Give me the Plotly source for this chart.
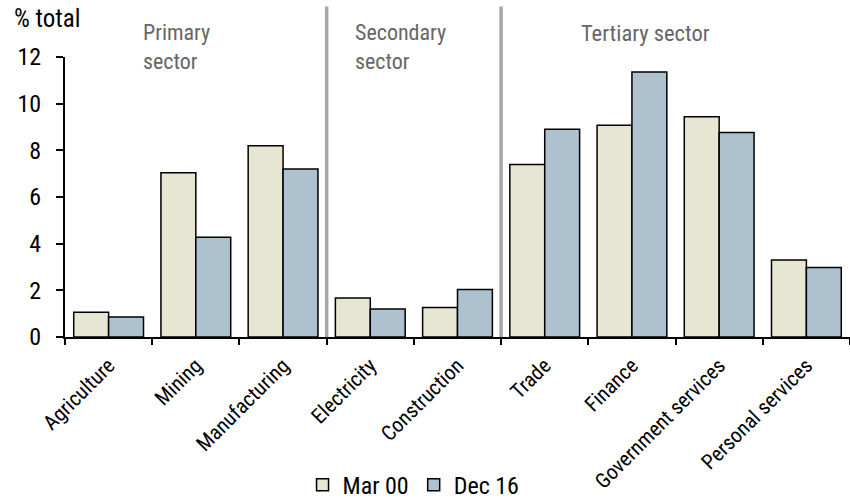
import plotly.graph_objects as go

categories = ["Agriculture", "Mining", "Manufacturing", "Electricity", "Construction",
              "Trade", "Finance", "Government services", "Personal services"]
mar00 = [1.06, 7.04, 8.2, 1.67, 1.26, 7.39, 9.08, 9.44, 3.3]
dec16 = [0.86, 4.27, 7.2, 1.2, 2.04, 8.9, 11.36, 8.76, 2.98]
yticks = [0, 2, 4, 6, 8, 10, 12]
sectors = ["Primary<br>sector", "Secondary<br>sector", "Tertiary sector"]

FONT = "Roboto Condensed, Roboto, sans-serif"

fig = go.Figure()
fig.add_trace(go.Bar(x=categories, y=mar00, name="Mar 00",
                     marker=dict(color="#E6E6D2", line=dict(color="black", width=1.5))))
fig.add_trace(go.Bar(x=categories, y=dec16, name="Dec 16",
                     marker=dict(color="#AEC1CF", line=dict(color="black", width=1.5))))

# sector separators
for xb in [2.5, 4.5]:
    fig.add_shape(type="line", xref="x", yref="paper", x0=xb, x1=xb, y0=0, y1=1.18,
                  line=dict(color="#A6A6A6", width=3.5), layer="below")

PW = 785.0
PH = 280.0
fig.add_annotation(text=sectors[0], xref="paper", yref="paper", x=(141-65)/PW, y=(337-18)/PH,
                   xanchor="left", yanchor="top", align="left", showarrow=False,
                   font=dict(size=22, color="#666666", family=FONT))
fig.add_annotation(text=sectors[1], xref="paper", yref="paper", x=(353-65)/PW, y=(337-18)/PH,
                   xanchor="left", yanchor="top", align="left", showarrow=False,
                   font=dict(size=22, color="#666666", family=FONT))
fig.add_annotation(text=sectors[2], xref="paper", yref="paper", x=(579-65)/PW, y=(337-18)/PH,
                   xanchor="left", yanchor="top", align="left", showarrow=False,
                   font=dict(size=22.5, color="#666666", family=FONT))
fig.add_annotation(text="% total", xref="paper", yref="paper", x=-53/PW, y=(337-2)/PH,
                   xanchor="left", yanchor="top", showarrow=False,
                   font=dict(size=25, color="black", family=FONT))

fig.update_layout(
    width=850, height=500,
    margin=dict(l=65, r=0, t=57, b=163, autoexpand=False),
    paper_bgcolor="white", plot_bgcolor="white",
    barmode="group", bargap=0.2, bargroupgap=0,
    font=dict(family=FONT, color="black"),
    showlegend=True,
    legend=dict(orientation="h", x=0.444, xanchor="center", y=-0.529, yanchor="middle",
                font=dict(size=24, family=FONT), itemwidth=30, traceorder="normal"),
)
fig.update_xaxes(showline=True, linecolor="black", linewidth=2, ticks="outside",
                 tickson="boundaries", ticklen=6, tickcolor="black", tickwidth=1.5,
                 tickangle=-45, tickfont=dict(size=21, family=FONT), showgrid=False,
                 ticklabelstandoff=6, range=[-0.5, 8.5], automargin=False)
fig.update_yaxes(range=[0, 12], tickvals=yticks, showline=True, linecolor="black", linewidth=2,
                 ticks="outside", ticklen=7, tickcolor="black", tickwidth=1.5,
                 tickfont=dict(size=24, family=FONT), showgrid=False, zeroline=False,
                 ticklabelstandoff=10, automargin=False)

fig.write_html("out.html")
